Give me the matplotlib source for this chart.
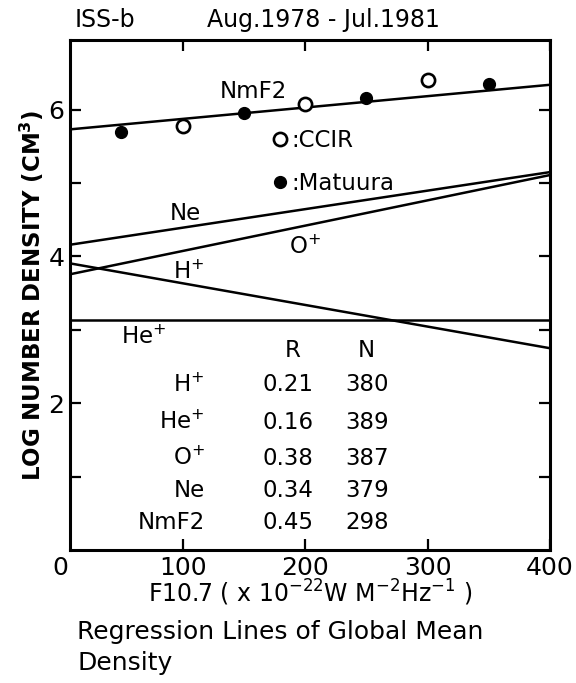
import matplotlib
matplotlib.use("Agg")
import matplotlib.pyplot as plt
import numpy as np

# Global mean densities, ISS-b (Aug.1978 - Jul.1981)
ccir_f107 = [100, 200, 300]
ccir_nmf2 = [5.78, 6.08, 6.41]
matuura_f107 = [50, 150, 250, 350]
matuura_nmf2 = [5.70, 5.96, 6.16, 6.35]

# regression lines: value at F10.7 = 0 and at F10.7 = 400
line_names = ["NmF2", "Ne", "O+", "H+", "He+"]
line_at_0 = [5.72, 4.14, 3.73, 3.93, 3.13]
line_at_400 = [6.34, 5.15, 5.11, 2.75, 3.13]

# correlation table
table_species = [r"H$^{+}$", r"He$^{+}$", r"O$^{+}$", "Ne", "NmF2"]
table_r = ["0.21", "0.16", "0.38", "0.34", "0.45"]
table_n = ["380", "389", "387", "379", "298"]

plt.rcParams["font.family"] = "DejaVu Sans"
plt.rcParams["mathtext.default"] = "regular"

fs = 16.5

fig = plt.figure(figsize=(5.76, 6.83), dpi=100)
ax = fig.add_axes([0.1215, 0.1947, 0.8333, 0.7467])

f107 = np.array([0, 400])
for name, y0, y1 in zip(line_names, line_at_0, line_at_400):
    ax.plot(f107, [y0, y1], color="black", linewidth=1.8)

ax.plot(ccir_f107, ccir_nmf2, linestyle="none", marker="o", markersize=9.5,
        markerfacecolor="white", markeredgecolor="black", markeredgewidth=1.9,
        label=":CCIR")
ax.plot(matuura_f107, matuura_nmf2, linestyle="none", marker="o", markersize=8.5,
        color="black", label=":Matuura")

# line labels
ax.text(158, 6.25, "NmF2", fontsize=fs, ha="center", va="center")
ax.text(102, 4.59, "Ne", fontsize=fs, ha="center", va="center")
ax.text(200, 4.13, r"O$^{+}$", fontsize=fs, ha="center", va="center")
ax.text(105, 3.79, r"H$^{+}$", fontsize=fs, ha="center", va="center")
ax.text(68, 2.90, r"He$^{+}$", fontsize=fs, ha="center", va="center")

# table of R and N
ax.text(190, 2.72, "R", fontsize=fs, ha="center", va="center")
ax.text(250, 2.72, "N", fontsize=fs, ha="center", va="center")
row_y = [2.25, 1.74, 1.25, 0.81, 0.38]
for sp, r, n, y in zip(table_species, table_r, table_n, row_y):
    ax.text(118, y, sp, fontsize=fs, ha="right", va="center")
    ax.text(186, y, r, fontsize=fs, ha="center", va="center")
    ax.text(251, y, n, fontsize=fs, ha="center", va="center")

ax.legend(loc="upper left", bbox_to_anchor=(0.42, 0.825), frameon=False,
          fontsize=fs, handlelength=0.7, handletextpad=0.15, borderpad=0,
          labelspacing=0.85, borderaxespad=0)

ax.set_xlim(8, 400)
ax.set_ylim(0, 6.95)
ax.set_xticks([100, 200, 300, 400])
ax.set_xticklabels(["100", "200", "300", "400"])
ax.text(0, -0.012, "0", transform=ax.get_xaxis_transform(), fontsize=18,
        ha="center", va="top")
ax.set_yticks([1, 2, 3, 4, 5, 6])
ax.set_yticklabels(["", "2", "", "4", "", "6"])
ax.tick_params(direction="in", length=8, width=1.6, top=True, right=True,
               labelsize=18, pad=4)
for s in ax.spines.values():
    s.set_linewidth(2.2)

ax.set_ylabel(r"LOG NUMBER DENSITY (CM$^{3}$)", fontsize=16.5, fontweight="bold",
              labelpad=2)
ax.set_xlabel(r"F10.7 ( x 10$^{-22}$W M$^{-2}$Hz$^{-1}$ )", fontsize=17,
              labelpad=-1)

fig.text(0.13, 0.971, "ISS-b", fontsize=17, va="center")
fig.text(0.36, 0.971, "Aug.1978 - Jul.1981", fontsize=17, va="center")
fig.text(0.134, 0.075, "Regression Lines of Global Mean", fontsize=18,
         va="center")
fig.text(0.134, 0.029, "Density", fontsize=18, va="center")

fig.savefig("out.png", dpi=100)
